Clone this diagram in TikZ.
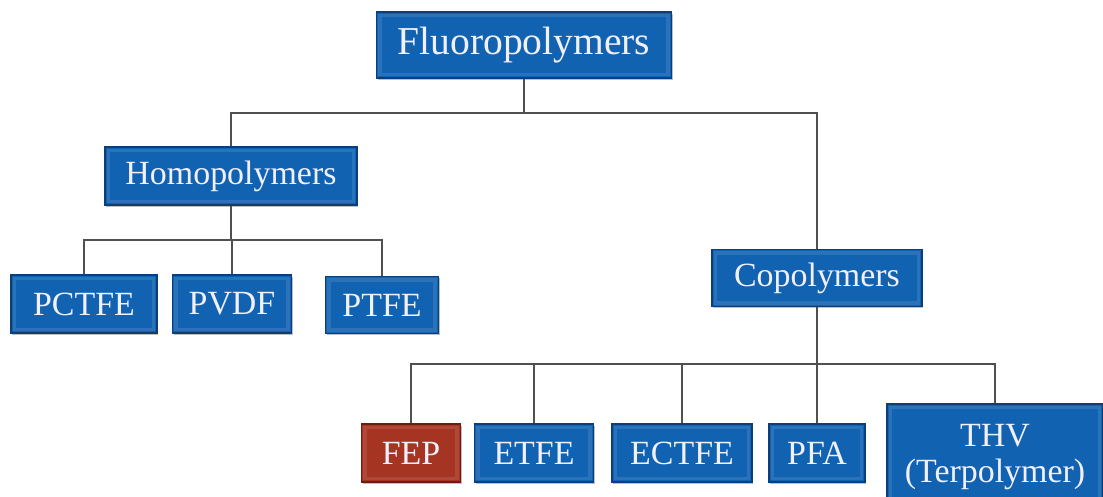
\documentclass[tikz,border=0pt]{standalone}
\usepackage{fontspec}
\setmainfont{Liberation Serif}
\usetikzlibrary{shadows}
\definecolor{boxblue}{RGB}{18,98,178}
\definecolor{boxedge}{RGB}{12,62,122}
\definecolor{boxred}{RGB}{166,52,34}
\definecolor{rededge}{RGB}{105,30,18}
\definecolor{linkgray}{RGB}{80,80,80}
\tikzset{
  box/.style={draw=boxedge, line width=0.8pt, fill=boxblue, text=white!94!blue,
    inner sep=0pt, align=center, font=\fontsize{19.3}{20.5}\selectfont,
    drop shadow={shadow xshift=0.7pt, shadow yshift=-1pt, opacity=0.5},
    path picture={\draw[white, opacity=0.1, line width=2pt]
      ([xshift=2pt,yshift=-2pt]path picture bounding box.north west) rectangle
      ([xshift=-2pt,yshift=2pt]path picture bounding box.south east);}},
  redbox/.style={box, draw=rededge, fill=boxred},
  link/.style={draw=linkgray, line width=0.9pt}
}
\begin{document}
\begin{tikzpicture}
\useasboundingbox (0,0) rectangle (22.06,-9.92);
\node[box, minimum width=5.9cm, minimum height=1.32cm, font=\fontsize{22.5}{24}\selectfont] (fluoro) at (10.48,-0.9) {Fluoropolymers};
\node[box, minimum width=5.04cm, minimum height=1.16cm] (homo) at (4.62,-3.52) {Homopolymers};
\node[box, minimum width=4.2cm, minimum height=1.14cm] (copo) at (16.34,-5.56) {Copolymers};
\node[box, minimum width=2.92cm, minimum height=1.16cm] (pctfe) at (1.68,-6.08) {PCTFE};
\node[box, minimum width=2.38cm, minimum height=1.16cm] (pvdf) at (4.64,-6.08) {PVDF};
\node[box, minimum width=2.26cm, minimum height=1.14cm] (ptfe) at (7.64,-6.1) {PTFE};
\node[redbox, minimum width=1.98cm, minimum height=1.16cm] (fep) at (8.22,-9.06) {FEP};
\node[box, minimum width=2.38cm, minimum height=1.16cm] (etfe) at (10.68,-9.06) {ETFE};
\node[box, minimum width=2.8cm, minimum height=1.16cm] (ectfe) at (13.64,-9.06) {ECTFE};
\node[box, minimum width=1.92cm, minimum height=1.16cm] (pfa) at (16.34,-9.06) {PFA};
\node[box, minimum width=4.32cm, minimum height=2.12cm] (thv) at (19.9,-9.14) {THV\\(Terpolymer)};
\coordinate (top) at (10.48,-2.26);
\coordinate (homojoin) at (4.62,-4.8);
\coordinate (copojoin) at (16.34,-7.28);
\draw[link] (fluoro.south) -- (top);
\draw[link] (top) -| (homo.north);
\draw[link] (top) -| (copo.north);
\draw[link] (homo.south) -- (homojoin);
\foreach \n in {pctfe,pvdf,ptfe}
  \draw[link] (homojoin) -| (\n.north);
\draw[link] (copo.south) -- (copojoin);
\foreach \n in {fep,etfe,ectfe,pfa,thv}
  \draw[link] (copojoin) -| (\n.north);
\end{tikzpicture}
\end{document}
